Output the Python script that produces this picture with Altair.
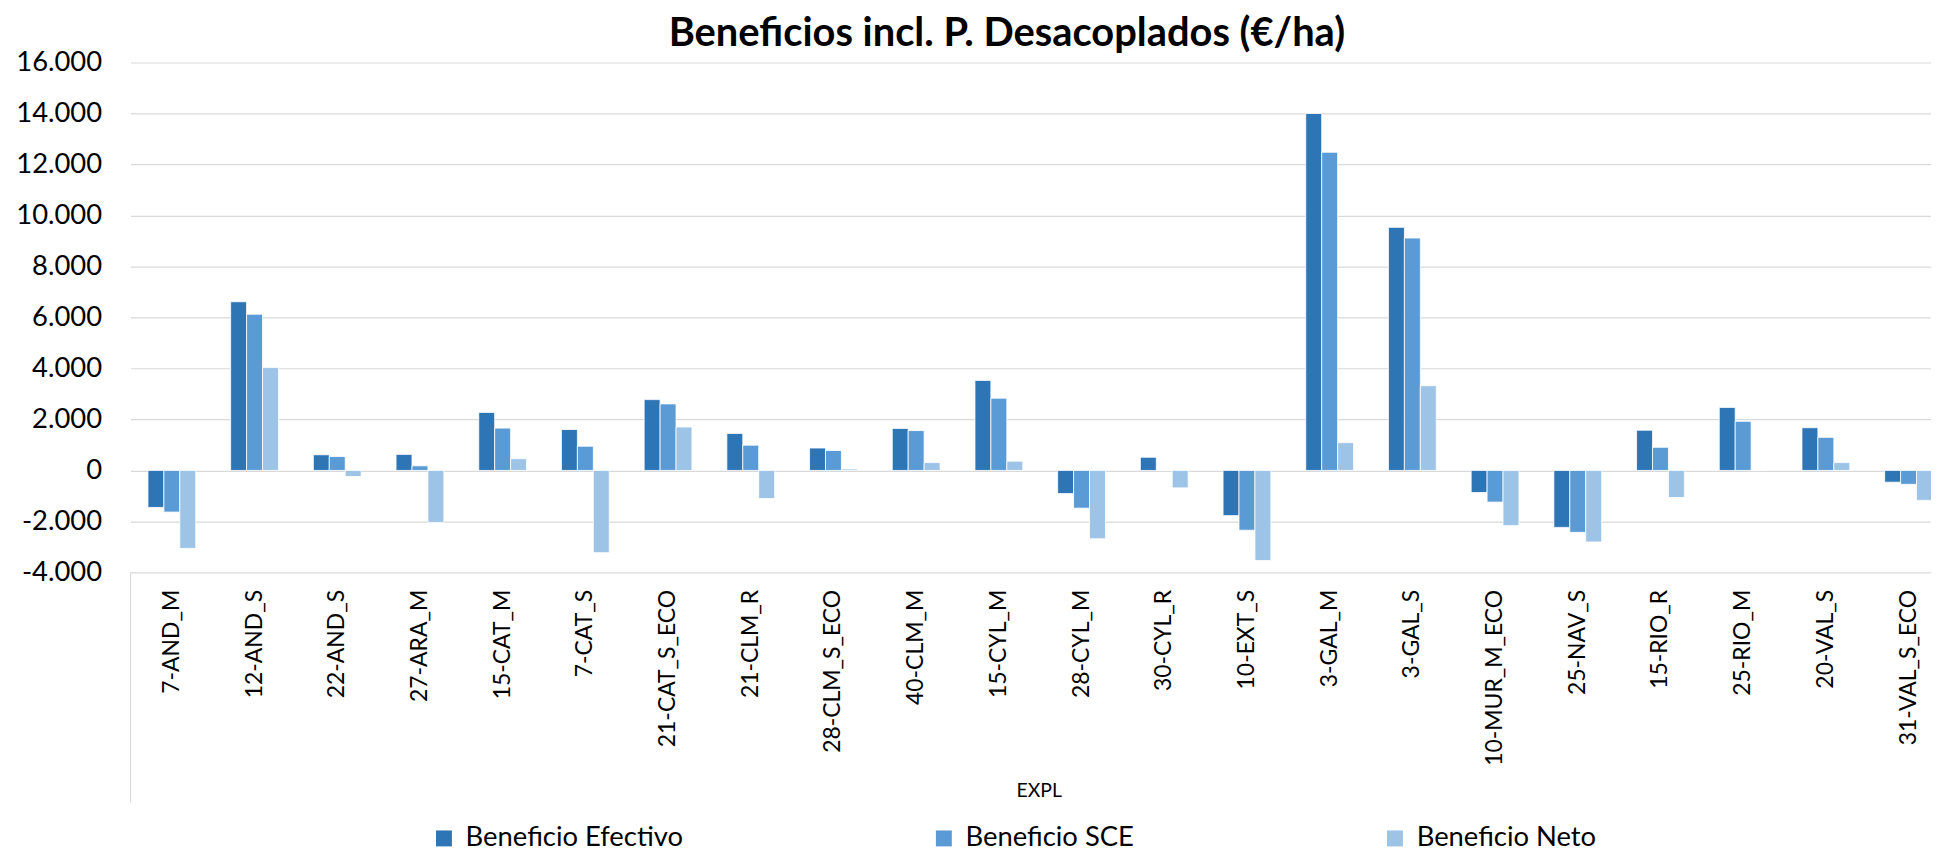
import altair as alt
import pandas as pd

CATS = ["7-AND_M", "12-AND_S", "22-AND_S", "27-ARA_M", "15-CAT_M", "7-CAT_S",
        "21-CAT_S_ECO", "21-CLM_R", "28-CLM_S_ECO", "40-CLM_M", "15-CYL_M",
        "28-CYL_M", "30-CYL_R", "10-EXT_S", "3-GAL_M", "3-GAL_S", "10-MUR_M_ECO",
        "25-NAV_S", "15-RIO_R", "25-RIO_M", "20-VAL_S", "31-VAL_S_ECO"]

SERIES = ["Beneficio Efectivo", "Beneficio SCE", "Beneficio Neto"]
COLORS = ["#2E75B6", "#5B9BD5", "#9DC3E6"]

EFECTIVO = [-1452, 6617, 614, 628, 2275, 1605, 2778, 1452, 879, 1647, 3532,
            -907, 516, -1773, 14000, 9535, -866, -2234, 1577, 2471, 1675, -461]
SCE = [-1633, 6128, 544, 181, 1661, 949, 2610, 991, 782, 1563, 2834,
       -1480, 0, -2345, 12480, 9116, -1242, -2429, 907, 1926, 1298, -544]
NETO = [-3057, 4034, -237, -2038, 461, -3225, 1703, -1103, 56, 307, 363,
        -2680, -684, -3532, 1089, 3322, -2164, -2806, -1061, 0, 307, -1173]

Y_TICKS = list(range(-4000, 16001, 2000))

rows = []
for name, vals in zip(SERIES, [EFECTIVO, SCE, NETO]):
    for c, v in zip(CATS, vals):
        rows.append({"EXPL": c, "Serie": name, "Valor": v})
df = pd.DataFrame(rows)

FONT = "Lato"
W, H = 1808, 512

bars = alt.Chart(df).mark_bar(stroke="#ffffff", strokeWidth=0.8).encode(
    x=alt.X("EXPL:N", sort=CATS,
            scale=alt.Scale(range=[0, 1827], paddingInner=0.422, paddingOuter=0.211),
            axis=alt.Axis(title="EXPL", labelAngle=270, labelFontSize=23,
                          labelFont=FONT, labelColor="#000000", labelPadding=17,
                          ticks=False, domain=False, grid=False,
                          titleFont=FONT, titleFontSize=19.5, titleFontWeight="normal",
                          titleColor="#000000", titleY=219, titleX=912,
                          titleBaseline="middle", labelLimit=400)),
    xOffset=alt.XOffset("Serie:N", sort=SERIES,
                        scale=alt.Scale(paddingInner=0, paddingOuter=0)),
    y=alt.Y("Valor:Q",
            scale=alt.Scale(domain=[-4000, 16000], nice=False),
            axis=alt.Axis(title=None, values=Y_TICKS,
                          labelExpr="datum.value == 0 ? '0' : (datum.value < 0 ? '-' : '') + format(abs(datum.value) / 1000, '.3f')",
                          labelFontSize=27.5, labelFont=FONT, labelColor="#000000",
                          labelPadding=29, ticks=False, domain=False,
                          gridColor="#d9d9d9", gridWidth=1.2)),
    color=alt.Color("Serie:N", sort=SERIES,
                    scale=alt.Scale(domain=SERIES, range=COLORS),
                    legend=alt.Legend(title=None, orient="none", direction="horizontal",
                                      legendX=301, legendY=765,
                                      symbolType="square", symbolSize=256,
                                      symbolStrokeWidth=0, labelOffset=8,
                                      labelFont=FONT, labelFontSize=27.5,
                                      labelColor="#000000", columnPadding=248,
                                      padding=0, labelLimit=400)),
)

vline = alt.Chart(pd.DataFrame({"k": [0]})).mark_rule(color="#d9d9d9", strokeWidth=1.2).encode(
    x=alt.value(0), y=alt.value(H), y2=alt.value(H + 231)
)

chart = alt.layer(vline, bars).properties(
    width=W, height=H,
    title=alt.TitleParams("Beneficios incl. P. Desacoplados (€/ha)", font=FONT,
                          fontSize=40, fontWeight="bold", color="#000000",
                          anchor="middle", dx=-24, dy=5, offset=0),
    autosize=alt.AutoSizeParams(type="none"),
    padding={"left": 123, "top": 53, "right": 0, "bottom": 279},
).configure_view(stroke=None)

chart.save("out.html", embed_options={"renderer": "svg", "actions": False})
